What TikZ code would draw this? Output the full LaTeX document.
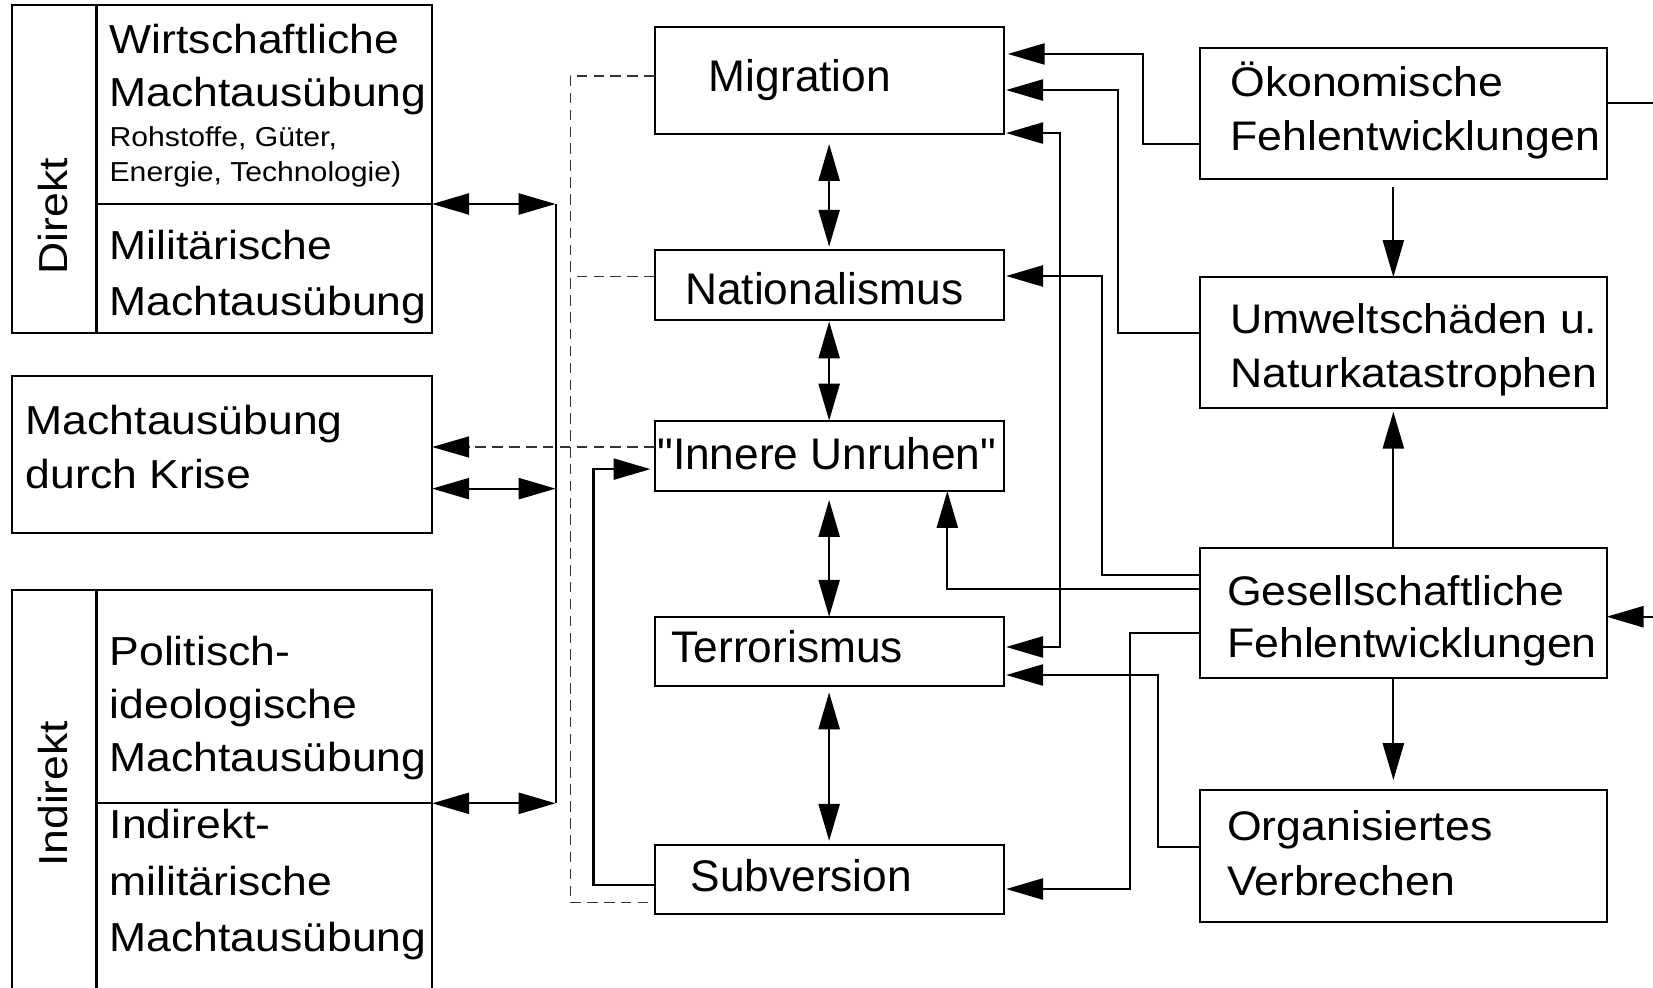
\documentclass[tikz,border=0pt]{standalone}
\usepackage{fontspec}
\setmainfont{Liberation Sans}
\newfontfamily\famL[FakeStretch=1.1]{Liberation Sans}
\newfontfamily\famR[FakeStretch=1.08]{Liberation Sans}
\newfontfamily\famC[FakeStretch=1.0]{Liberation Sans}
\newfontfamily\famS[FakeStretch=1.1]{Liberation Sans}
\newcommand\fntL{\famL\fontsize{19.2pt}{25.5pt}\selectfont}
\newcommand\fntR{\famR\fontsize{19.6pt}{25.5pt}\selectfont}
\newcommand\fntC{\famC\fontsize{21pt}{25.5pt}\selectfont}
\newcommand\fntS{\famS\fontsize{13pt}{16pt}\selectfont}
\usetikzlibrary{arrows.meta,fit}
\tikzset{
  box/.style={draw, line width=1pt, inner sep=0pt, outer sep=0pt},
  conn/.style={line width=1pt},
  tip/.style={-{Triangle[length=17.5pt,width=10pt]}},
  dtip/.style={{Triangle[length=17.5pt,width=10pt]}-{Triangle[length=17.5pt,width=10pt]}},
  dashline/.style={draw=black!80, line width=0.6pt, dash pattern=on 5pt off 3pt},
  txt/.style={inner sep=0pt, outer sep=0pt, anchor=base west},
}
\begin{document}
\begin{tikzpicture}[x=0.5pt,y=-0.5pt]
\fill[white] (0,0) rectangle (1568,936.3);
\useasboundingbox (0,0) rectangle (1568,936.3);

% ---------- left column boxes
\node[box, fit={(11.5,4.7) (91.5,316)}] (direkt) {};
\node[box, fit={(91.5,4.7) (410,193.5)}] (wirt) {};
\node[box, fit={(91.5,193.5) (410,316)}] (mil) {};
\node[box, fit={(11.5,356.7) (410,505.8)}] (krise) {};
\node[box, fit={(11.5,560) (91.5,990)}] (indirekt) {};
\node[box, fit={(91.5,560) (410,762)}] (polit) {};
\node[box, fit={(91.5,762) (410,990)}] (indmil) {};

\node[font=\fntL, rotate=90, inner sep=0pt] (tdirekt) at (50,205) {Direkt};
\node[font=\fntL, rotate=90, inner sep=0pt] (tindirekt) at (50,753) {Indirekt};

\node[txt, font=\fntL] (w1) at (104,50.6) {Wirtschaftliche};
\node[txt, font=\fntL] (w2) at (104,101.2) {Machtausübung};
\node[txt, font=\fntS] (w3) at (104,139) {Rohstoffe, Güter,};
\node[txt, font=\fntS] (w4) at (104,172.3) {Energie, Technologie)};
\node[txt, font=\fntL] (m1) at (104,246.6) {Militärische};
\node[txt, font=\fntL] (m2) at (104,298.8) {Machtausübung};
\node[txt, font=\fntL] (k1) at (24.5,412.6) {Machtausübung};
\node[txt, font=\fntL] (k2) at (24.5,463.2) {durch Krise};
\node[txt, font=\fntL] (p1) at (104,630.8) {Politisch-};
\node[txt, font=\fntL] (p2) at (104,681.4) {ideologische};
\node[txt, font=\fntL] (p3) at (104,732) {Machtausübung};
\node[txt, font=\fntL] (i1) at (104,795.2) {Indirekt-};
\node[txt, font=\fntL] (i2) at (104,849) {militärische};
\node[txt, font=\fntL] (i3) at (104,902.8) {Machtausübung};

% ---------- centre column boxes
\node[box, fit={(621,25.3) (952,127.1)}] (mig) {};
\node[box, fit={(621,237.2) (952,303.6)}] (nat) {};
\node[box, fit={(621,399) (952,465.8)}] (inn) {};
\node[box, fit={(621,585) (952,650.8)}] (ter) {};
\node[box, fit={(621,801.6) (952,867.3)}] (sub) {};

\node[txt, font=\fntC] (tmig) at (672.5,87) {Migration};
\node[txt, font=\fntC] (tnat) at (650,289.3) {Nationalismus};
\node[txt, font=\fntC] (tinn) at (623.5,445.2) {"Innere Unruhen"};
\node[txt, font=\fntC] (tter) at (637,628.6) {Terrorismus};
\node[txt, font=\fntC] (tsub) at (655,845.2) {Subversion};

% ---------- right column boxes
\node[box, fit={(1138.3,45.5) (1524,169.8)}] (oek) {};
\node[box, fit={(1138.3,262.8) (1524,386.7)}] (umw) {};
\node[box, fit={(1138.3,520) (1524,643.5)}] (ges) {};
\node[box, fit={(1138.3,749.4) (1524,874.3)}] (org) {};

\node[txt, font=\fntR] (o1) at (1167,91.7) {Ökonomische};
\node[txt, font=\fntR] (o2) at (1167,143) {Fehlentwicklungen};
\node[txt, font=\fntR] (u1) at (1167,316) {Umweltschäden u.};
\node[txt, font=\fntR] (u2) at (1167,368) {Naturkatastrophen};
\node[txt, font=\fntR] (g1) at (1164,574) {Gesellschaftliche};
\node[txt, font=\fntR] (g2) at (1164,624) {Fehlentwicklungen};
\node[txt, font=\fntR] (r1) at (1164,797) {Organisiertes};
\node[txt, font=\fntR] (r2) at (1164,849) {Verbrechen};

% ---------- left bus
\coordinate (busT) at (527,193.5);
\coordinate (busB) at (527,762);
\draw[conn] (busT) -- (busB);
\draw[conn,dtip] (wirt.south east) -- (busT);
\draw[conn,dtip] (krise.east |- 0,463.5) -- (busT |- 0,463.5);
\draw[conn,dtip] (polit.south east) -- (busB);

% ---------- dashed links
\coordinate (dT) at (541,72);
\coordinate (dB) at (541,856);
\draw[dashline] (mig.west |- dT) -- (dT) -- (dB) -- (sub.west |- dB);
\draw[dashline] (nat.west |- 0,262) -- (dT |- 0,262);
\draw[dashline, -{Triangle[length=17.5pt,width=10pt,color=black]}] (inn.west |- 0,424) -- (krise.east |- 0,424);

% ---------- subversion -> innere unruhen
\draw[conn,tip,shorten >=2pt] (sub.west |- 0,839.5) -| (563,445) -- (inn.west |- 0,445);

% ---------- centre vertical double arrows
\draw[conn,dtip,shorten <=4.75pt,shorten >=1.6pt] (mig.south) -- (nat.north);
\draw[conn,dtip,shorten <=0.7pt] (nat.south) -- (inn.north);
\draw[conn,dtip,shorten <=4.25pt] (inn.south) -- (ter.north);
\draw[conn,dtip,shorten <=3pt,shorten >=2pt] (ter.south) -- (sub.north);

% ---------- right column arrows
\draw[conn,tip,shorten <=4pt] (oek.south -| 1321.7,0) -- (umw.north -| 1321.7,0);
\draw[conn,tip,shorten >=1.9pt] (ges.north -| 1321.7,0) -- (umw.south -| 1321.7,0);
\draw[conn,tip,shorten >=4.7pt] (ges.south -| 1321.7,0) -- (org.north -| 1321.7,0);

\coordinate (oekR) at (1580,98);
\draw[conn] (oek.east |- oekR) -- (oekR);
\coordinate (gesR) at (1580,585);
\draw[conn,tip] (gesR) -- (ges.east |- gesR);

% ---------- right -> centre connectors
\draw[conn,tip,shorten >=2pt] (oek.west |- 0,136.6) -| (1084.3,51.2) -- (mig.east |- 0,51.2);
\draw[conn,tip,shorten >=1.2pt] (umw.west |- 0,315.9) -| (1060.5,85.4) -- (mig.east |- 0,85.4);
\coordinate (gj) at (1005.5,559);
\draw[conn,tip] (ges.west |- gj) -| (inn.south -| 898.6,0);
\draw[conn,tip,shorten >=1.2pt] (gj) |- (mig.east |- 0,126.2);
\draw[conn,tip,shorten >=1.2pt] (gj) |- (ter.east |- 0,613.7);
\draw[conn,tip,shorten >=1.2pt] (ges.west |- 0,545.4) -| (1045.3,261.8) -- (nat.east |- 0,261.8);
\draw[conn,tip,shorten >=1.2pt] (ges.west |- 0,600.5) -| (1072,843.3) -- (sub.east |- 0,843.3);
\draw[conn,tip,shorten >=1.2pt] (org.west |- 0,803.5) -| (1098.5,640.3) -- (ter.east |- 0,640.3);
\end{tikzpicture}
\end{document}
